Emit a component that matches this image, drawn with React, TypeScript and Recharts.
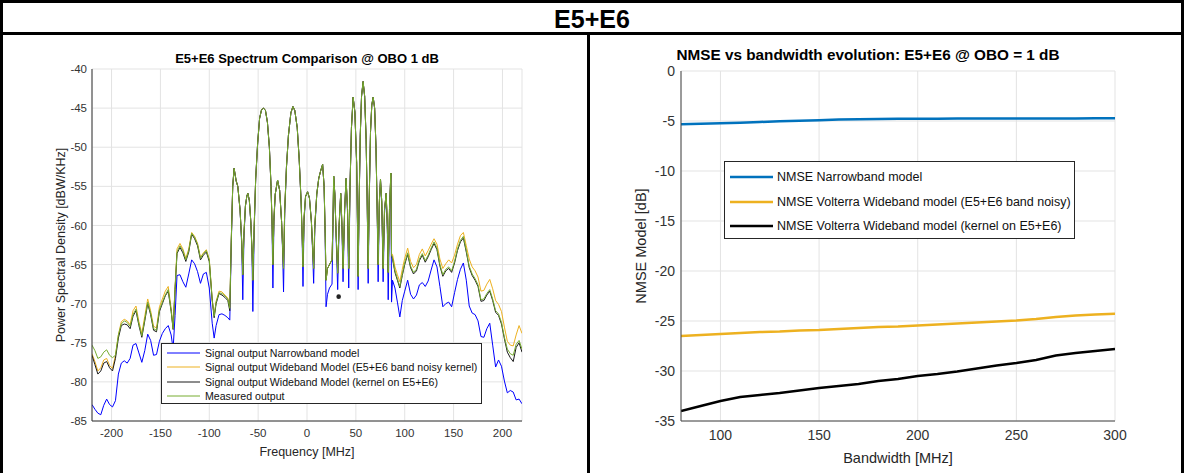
import React from "react";
import {
  ComposedChart,
  LineChart,
  Line,
  XAxis,
  YAxis,
  CartesianGrid,
  Legend,
  ReferenceDot,
} from "recharts";

const FONT = '"Liberation Sans", Arial, Helvetica, sans-serif';

// ---- spectrum (left panel) ----
// left regrowth region
const leftFreq = [-220, -217, -214, -211, -208, -205, -202, -199, -196, -193, -190, -187, -184, -181, -178, -175, -172, -169, -166, -163, -160, -157, -154, -151, -148, -145, -142, -139, -137, -135, -133, -130, -127, -124, -121, -118, -115, -112, -109, -106, -103, -100, -97, -95, -93, -90, -87, -84, -81, -79];
const leftNarrow = [-82.9, -83.5, -84.0, -84.2, -83.0, -82.2, -82.9, -83.2, -82.4, -79.0, -77.6, -77.3, -77.6, -77.0, -75.3, -75.1, -76.3, -77.5, -76.0, -73.9, -74.7, -76.6, -76.5, -74.8, -73.8, -73.2, -72.8, -74.0, -75.8, -71.5, -66.4, -66.3, -67.2, -67.9, -66.2, -64.4, -64.9, -65.9, -67.4, -66.2, -66.0, -68.0, -72.5, -74.4, -72.8, -71.4, -71.3, -71.5, -71.8, -72.1];
const leftNoisy = [-76.4, -77.4, -78.6, -78.2, -77.2, -77.0, -77.9, -78.3, -76.6, -74.0, -72.3, -72.0, -72.2, -72.7, -70.9, -70.3, -72.3, -73.8, -71.6, -69.4, -70.9, -72.9, -73.1, -70.4, -69.4, -68.4, -67.8, -70.6, -73.0, -67.8, -63.0, -62.3, -63.0, -64.2, -63.0, -60.9, -61.4, -62.3, -64.1, -63.5, -63.1, -64.3, -69.4, -71.5, -69.7, -68.4, -68.5, -68.9, -69.3, -70.5];
const leftKernel = [-76.6, -77.8, -79.0, -78.6, -77.6, -77.4, -78.2, -78.6, -77.0, -74.4, -72.8, -72.6, -72.7, -73.2, -71.6, -70.9, -72.8, -74.3, -72.2, -70.0, -71.4, -73.4, -73.6, -71.0, -70.0, -69.0, -68.4, -71.0, -73.3, -68.2, -63.6, -62.8, -63.5, -64.6, -63.4, -61.1, -61.7, -62.6, -64.4, -63.8, -63.4, -64.6, -69.6, -71.8, -70.0, -68.7, -68.9, -69.2, -69.6, -70.9];
const leftMeasured = [-75.3, -76.0, -77.0, -76.8, -76.2, -75.9, -76.6, -76.9, -76.6, -74.0, -72.6, -72.2, -72.4, -72.9, -71.4, -70.7, -72.6, -74.1, -72.0, -69.8, -71.2, -73.2, -73.4, -70.8, -69.8, -68.9, -68.2, -70.9, -73.2, -68.0, -63.4, -62.6, -63.2, -64.4, -63.2, -61.0, -61.5, -62.4, -64.2, -63.6, -63.2, -64.4, -69.5, -71.6, -69.8, -68.6, -68.7, -69.0, -69.4, -70.6];

// signal band (the three wideband curves overlap here)
const centerFreq = [-77.5, -76, -74.6, -72.5, -70.8, -68.5, -66.8, -65.7, -64.5, -63, -61.5, -60.5, -59, -57.5, -56.3, -55.4, -54, -52.5, -50.5, -48.5, -46.5, -44.5, -42.5, -40.5, -38.5, -36.8, -35.7, -34.9, -33.8, -32.5, -30.1, -28, -26, -24.9, -24, -22.8, -21, -19, -16.5, -14.4, -12.5, -10, -8, -6, -4.9, -4.1, -3, -1.5, 0.6, 2.5, 4.5, 5.8, 6.8, 8, 10, 12, 14, 16, 17.5, 18.6, 19.5, 21, 23, 25.6, 26.5, 27.3, 28.5, 29.8, 31.4, 32.8, 34.5, 35.8, 36.9, 38.5, 40, 41.5, 42.7, 44, 45.5, 47.2, 49, 50.8, 51.7, 52.3, 53.2, 54.5, 55.8, 57.4, 59, 60.5, 61.6, 62.6, 63.6, 65, 66.3, 67.7, 69.2, 70.6, 71.8, 72.8, 74, 75.2, 76.5, 77.9, 79.3, 81, 82.2, 83.1, 84.4, 85.8, 86.5];
const centerWide = [-62, -55, -52.7, -54.3, -55.0, -58, -62, -66.3, -61, -57.5, -56.2, -55.9, -56.8, -59.5, -63, -67, -60, -54, -49.5, -46.3, -45.2, -45.0, -45.3, -46.8, -50, -55, -60, -65, -59, -56, -54.2, -55.5, -59.5, -63, -65.5, -58, -52.5, -48.5, -45.6, -44.8, -45.3, -47.5, -51.5, -57, -61.5, -65.3, -59, -56.3, -55.7, -56.5, -59.5, -63, -65.5, -60, -56, -54, -53, -52.2, -55, -61, -67, -65.5, -65, -64.4, -60, -53.7, -56, -61, -66.1, -60, -55.9, -60, -65.5, -58, -54, -58, -65.5, -55, -47.5, -43.6, -45.5, -52, -60, -66.5, -58, -48.5, -43.5, -41.6, -43.5, -49, -57, -65.5, -57, -48, -44.6, -43.6, -45, -50, -58, -65, -57, -54.1, -57, -65.5, -58, -55.9, -60, -66, -58, -53.3, -63.8];
const centerNarrow = [-62.5, -55, -52.7, -54.3, -55.0, -58, -62.5, -69.5, -61.5, -57.5, -56.2, -55.9, -56.8, -59.5, -63.5, -71, -60.5, -54, -49.5, -46.3, -45.2, -45.0, -45.3, -46.8, -50, -55, -60.5, -68, -59.5, -56, -54.2, -55.5, -59.5, -63.5, -68.5, -58.5, -52.5, -48.5, -45.6, -44.8, -45.3, -47.5, -51.5, -57, -62, -67.8, -59.5, -56.3, -55.7, -56.5, -59.5, -63.5, -67.4, -60.5, -56, -54, -53, -52.2, -55, -61.5, -70.4, -68.8, -68, -67.5, -61, -53.7, -56, -61.5, -68.2, -60.5, -55.9, -60.5, -67.2, -58, -54, -58.5, -68, -55, -47.5, -43.6, -45.5, -52, -60.5, -68.2, -58.5, -48.5, -43.5, -41.6, -43.5, -49, -57, -67.4, -57.5, -48, -44.6, -43.6, -45, -50, -58, -67.2, -57.5, -54.1, -57, -67.2, -58.5, -55.9, -60.5, -69.5, -58.5, -53.3, -69.8];

// right regrowth region
const rightFreq = [87.5, 90, 92.5, 95, 97.5, 100, 103, 106, 109, 112, 115, 118, 121, 124, 127, 130, 133, 136, 139, 142, 145, 148, 151, 154, 157, 160, 163, 166, 169, 172, 175, 178, 181, 184, 187, 190, 193, 196, 199, 202, 205, 208, 211, 214, 217, 220];
const rightNarrow = [-67.0, -68.0, -69.8, -71.7, -69.6, -68.4, -67.0, -68.8, -69.4, -68.9, -67.6, -67.3, -67.8, -67.1, -65.7, -64.4, -65.3, -67.8, -70.4, -70.0, -69.8, -70.4, -68.6, -66.9, -65.6, -64.8, -67.0, -70.3, -71.2, -71.4, -72.2, -74.2, -74.3, -73.2, -72.5, -75.3, -78.1, -77.2, -78.0, -79.9, -81.4, -81.1, -81.3, -82.3, -82.2, -82.8];
const rightNoisy = [-63.7, -65.3, -66.3, -67.2, -65.6, -64.2, -62.9, -64.6, -65.4, -65.0, -63.7, -63.0, -63.9, -63.2, -62.4, -61.7, -62.4, -64.3, -65.5, -64.9, -64.4, -64.8, -63.8, -62.4, -61.3, -60.9, -62.6, -64.3, -65.3, -65.8, -66.6, -68.4, -68.3, -67.5, -66.9, -68.1, -69.6, -70.1, -71.0, -73.0, -74.8, -75.3, -75.4, -74.0, -72.8, -73.8];
const rightKernel = [-64.3, -66.0, -67.0, -68.0, -66.4, -65.0, -63.7, -65.4, -66.2, -65.8, -64.5, -63.8, -64.7, -64.0, -63.1, -62.3, -63.1, -65.2, -66.5, -65.8, -65.5, -66.0, -64.8, -63.2, -62.1, -61.6, -63.4, -65.4, -66.4, -67.0, -67.8, -69.7, -69.6, -68.9, -68.4, -69.6, -71.1, -71.5, -72.6, -74.5, -76.2, -76.9, -77.4, -75.6, -75.0, -76.2];
const rightMeasured = [-64.1, -65.8, -66.8, -67.8, -66.2, -64.8, -63.5, -65.2, -66.0, -65.6, -64.3, -63.6, -64.5, -63.8, -62.9, -62.1, -62.9, -65.0, -66.3, -65.6, -65.3, -65.8, -64.6, -63.0, -61.9, -61.4, -63.2, -65.2, -66.2, -66.8, -67.6, -69.5, -69.4, -68.7, -68.2, -69.4, -70.9, -71.3, -72.4, -74.3, -75.8, -76.4, -76.6, -75.2, -74.7, -75.8];

const markerPoints = [{ f: 32.4, v: -69.1 }];

const freqTicks = [-200, -150, -100, -50, 0, 50, 100, 150, 200];
const psdTicks = [-85, -80, -75, -70, -65, -60, -55, -50, -45, -40];

const spectrumNames = [
  "Signal output Narrowband model",
  "Signal output Wideband Model (E5+E6 band noisy kernel)",
  "Signal output Wideband Model (kernel on E5+E6)",
  "Measured output",
];

// ---- NMSE (right panel) ----
const bandwidth = [80, 90, 100, 110, 120, 130, 140, 150, 160, 170, 180, 190, 200, 210, 220, 230, 240, 250, 260, 270, 280, 290, 300];
const nmseNarrow = [-5.33, -5.28, -5.22, -5.18, -5.1, -5.02, -4.97, -4.92, -4.86, -4.82, -4.8, -4.78, -4.77, -4.77, -4.76, -4.76, -4.75, -4.75, -4.75, -4.74, -4.74, -4.73, -4.73];
const nmseNoisy = [-26.5, -26.4, -26.3, -26.2, -26.1, -26.05, -25.95, -25.9, -25.8, -25.7, -25.6, -25.55, -25.45, -25.35, -25.25, -25.15, -25.05, -24.95, -24.8, -24.6, -24.45, -24.35, -24.27];
const nmseKernel = [-34.0, -33.5, -33.0, -32.6, -32.4, -32.2, -31.95, -31.7, -31.5, -31.3, -31.0, -30.8, -30.5, -30.3, -30.05, -29.75, -29.45, -29.2, -28.9, -28.45, -28.2, -28.0, -27.8];
const bwTicks = [100, 150, 200, 250, 300];
const nmseTicks = [-35, -30, -25, -20, -15, -10, -5, 0];

const nmseNames = [
  "NMSE Narrowband model",
  "NMSE Volterra Wideband model (E5+E6 band noisy)",
  "NMSE Volterra Wideband model (kernel on E5+E6)",
];

const specFreq = [...leftFreq, ...centerFreq, ...rightFreq];
const specNarrow = [...leftNarrow, ...centerNarrow, ...rightNarrow];
const specNoisy = [...leftNoisy, ...centerWide, ...rightNoisy];
const specKernel = [...leftKernel, ...centerWide, ...rightKernel];
const specMeasured = [...leftMeasured, ...centerWide, ...rightMeasured];

const spectrumRows = specFreq.map((f, i) => ({
  f,
  nb: specNarrow[i],
  wbn: specNoisy[i],
  wbk: specKernel[i],
  meas: specMeasured[i],
}));

const nmseRows = bandwidth.map((bw, i) => ({
  bw,
  nb: nmseNarrow[i],
  wbn: nmseNoisy[i],
  wbk: nmseKernel[i],
}));

const tickStyle = (size: number) => ({ fontSize: size, fill: "#333", fontFamily: FONT });

const BoxLegend = (props: any) => {
  const { payload, order, rowH, lineW, lineSW, fontSize, padTop, textGap } = props;
  const items = [...(payload || [])].sort(
    (a: any, b: any) => order.indexOf(a.value) - order.indexOf(b.value)
  );
  return (
    <div
      style={{
        border: "1px solid #262626",
        background: "#fff",
        boxSizing: "border-box",
        paddingTop: padTop,
        fontFamily: FONT,
        fontSize,
        color: "#111",
        height: "100%",
      }}
    >
      {items.map((p: any) => (
        <div key={p.value} style={{ display: "flex", alignItems: "center", height: rowH, whiteSpace: "nowrap" }}>
          <svg width={lineW + 4} height={6} style={{ marginLeft: 3, marginRight: textGap, flexShrink: 0 }}>
            <line x1={2} y1={3} x2={lineW + 2} y2={3} stroke={p.color} strokeWidth={lineSW} />
          </svg>
          <span>{p.value}</span>
        </div>
      ))}
    </div>
  );
};

const Text = ({ x, y, size, bold, rotate, children }: any) => (
  <div
    style={{
      position: "absolute",
      left: x,
      top: y,
      transform: `translate(-50%, -50%)${rotate ? " rotate(-90deg)" : ""}`,
      fontFamily: FONT,
      fontSize: size,
      fontWeight: bold ? "bold" : "normal",
      whiteSpace: "nowrap",
      color: bold ? "#000" : "#262626",
      lineHeight: 1,
    }}
  >
    {children}
  </div>
);

export default function App() {
  return (
    <div style={{ position: "absolute", left: 0, top: 0, width: 1184, height: 473, background: "#fff", overflow: "hidden" }}>
      <div style={{ position: "absolute", left: 0, top: 0 }}>
        <ComposedChart width={588} height={473} data={spectrumRows} margin={{ top: 69, right: 66, bottom: 22, left: 42 }}>
          <CartesianGrid stroke="#e3e3e3" />
          <XAxis
            type="number"
            dataKey="f"
            domain={[-220, 220]}
            ticks={freqTicks}
            allowDataOverflow
            height={30}
            tickLine={false}
            tickSize={4}
            tickMargin={4}
            axisLine={{ stroke: "#333" }}
            tick={tickStyle(11.5)}
          />
          <YAxis
            type="number"
            domain={[-85, -40]}
            ticks={psdTicks}
            allowDataOverflow
            width={50}
            tickLine={false}
            tickSize={3}
            tickMargin={2}
            axisLine={{ stroke: "#333" }}
            tick={tickStyle(11.5)}
          />
          <Line type="linear" dataKey="nb" name={spectrumNames[0]} stroke="#0000ff" strokeWidth={1} dot={false} isAnimationActive={false} />
          <Line type="linear" dataKey="wbn" name={spectrumNames[1]} stroke="#EDB120" strokeWidth={1} dot={false} isAnimationActive={false} />
          <Line type="linear" dataKey="wbk" name={spectrumNames[2]} stroke="#1a1a1a" strokeWidth={1} dot={false} isAnimationActive={false} />
          <Line type="linear" dataKey="meas" name={spectrumNames[3]} stroke="#77AC30" strokeWidth={1} dot={false} isAnimationActive={false} />
          {markerPoints.map((m, i) => (
            <ReferenceDot key={i} x={m.f} y={m.v} r={2.3} fill="#222" stroke="none" />
          ))}
          <Legend
            layout="vertical"
            align="center"
            verticalAlign="middle"
            wrapperStyle={{ left: 161, top: 343, width: 321, height: 61 }}
            content={(p: any) => <BoxLegend {...p} order={spectrumNames} rowH={14.5} lineW={33} lineSW={1} fontSize={10.6} padTop={1.5} textGap={3} />}
          />
        </ComposedChart>
      </div>

      <div style={{ position: "absolute", left: 590, top: 0 }}>
        <LineChart width={594} height={473} data={nmseRows} margin={{ top: 71, right: 69, bottom: 22, left: 41 }}>
          <CartesianGrid stroke="#e3e3e3" />
          <XAxis
            type="number"
            dataKey="bw"
            domain={[80, 300]}
            ticks={bwTicks}
            allowDataOverflow
            height={30}
            tickLine={false}
            tickSize={4}
            tickMargin={5}
            axisLine={{ stroke: "#444" }}
            tick={tickStyle(14)}
          />
          <XAxis xAxisId="top" orientation="top" type="number" dataKey="bw" domain={[80, 300]} height={0} tick={false} tickLine={false} axisLine={{ stroke: "#444" }} />
          <YAxis
            type="number"
            domain={[-35, 0]}
            ticks={nmseTicks}
            allowDataOverflow
            width={50}
            tickLine={false}
            tickSize={3}
            tickMargin={3}
            axisLine={{ stroke: "#444" }}
            tick={tickStyle(14)}
          />
          <YAxis yAxisId="right" orientation="right" type="number" domain={[-35, 0]} width={0} tick={false} tickLine={false} axisLine={{ stroke: "#444" }} />
          <Line type="linear" dataKey="nb" name={nmseNames[0]} stroke="#0072BD" strokeWidth={2.5} dot={false} isAnimationActive={false} />
          <Line type="linear" dataKey="wbn" name={nmseNames[1]} stroke="#EDB120" strokeWidth={2.5} dot={false} isAnimationActive={false} />
          <Line type="linear" dataKey="wbk" name={nmseNames[2]} stroke="#000000" strokeWidth={2.5} dot={false} isAnimationActive={false} />
          <Legend
            layout="vertical"
            align="center"
            verticalAlign="middle"
            wrapperStyle={{ left: 134, top: 161, width: 351, height: 78 }}
            content={(p: any) => <BoxLegend {...p} order={nmseNames} rowH={24.5} lineW={43} lineSW={2.5} fontSize={12.5} padTop={3} textGap={2} />}
          />
        </LineChart>
      </div>

      {/* titles and axis labels */}
      <Text x={307} y={58} size={13} bold>E5+E6 Spectrum Comparison @ OBO 1 dB</Text>
      <Text x={307} y={452} size={12.5}>Frequency [MHz]</Text>
      <Text x={61} y={245} size={12.5} rotate>Power Spectral Density [dBW/KHz]</Text>
      <Text x={868} y={55} size={15.3} bold>NMSE vs bandwidth evolution: E5+E6 @ OBO = 1 dB</Text>
      <Text x={898} y={458} size={14.5}>Bandwidth [MHz]</Text>
      <Text x={641} y={246} size={14.5} rotate>NMSE Model [dB]</Text>

      {/* table frame */}
      <div style={{ position: "absolute", left: 0, top: 0, width: 1184, height: 473, borderLeft: "3px solid #000", borderRight: "3px solid #000", borderTop: "3px solid #000", boxSizing: "border-box" }} />
      <div style={{ position: "absolute", left: 0, top: 32, width: 1184, height: 3, background: "#000" }} />
      <div style={{ position: "absolute", left: 587, top: 32, width: 3, height: 441, background: "#000" }} />
      <Text x={592} y={19} size={25} bold>E5+E6</Text>
    </div>
  );
}
